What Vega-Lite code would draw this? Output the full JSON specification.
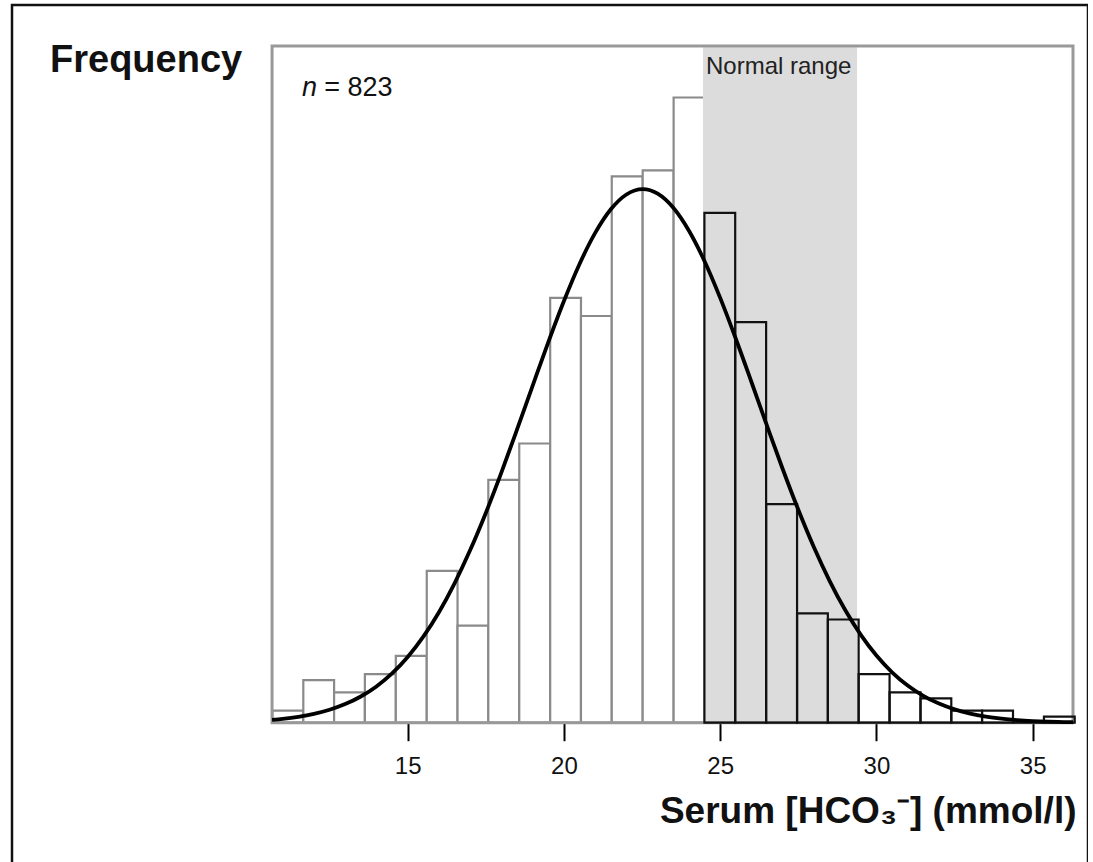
{
  "$schema": "https://vega.github.io/schema/vega-lite/v6.json",
  "autosize": "none",
  "padding": {"left": 12, "top": 5, "right": 0, "bottom": 0},
  "width": 1076,
  "height": 870,
  "background": "white",
  "config": {
    "view": {"stroke": "#111111", "strokeWidth": 2.5},
    "font": "Liberation Sans"
  },
  "datasets": {
    "bars": [
      {"start": 10.67, "end": 11.66, "count": 2},
      {"start": 11.66, "end": 12.645, "count": 7},
      {"start": 12.645, "end": 13.63, "count": 5},
      {"start": 13.63, "end": 14.62, "count": 8},
      {"start": 14.62, "end": 15.61, "count": 11},
      {"start": 15.61, "end": 16.595, "count": 25},
      {"start": 16.595, "end": 17.58, "count": 16},
      {"start": 17.58, "end": 18.57, "count": 40},
      {"start": 18.57, "end": 19.56, "count": 46},
      {"start": 19.56, "end": 20.545, "count": 70},
      {"start": 20.545, "end": 21.53, "count": 67},
      {"start": 21.53, "end": 22.52, "count": 90},
      {"start": 22.52, "end": 23.51, "count": 91},
      {"start": 23.51, "end": 24.495, "count": 103},
      {"start": 24.495, "end": 25.48, "count": 84},
      {"start": 25.48, "end": 26.47, "count": 66},
      {"start": 26.47, "end": 27.46, "count": 36},
      {"start": 27.46, "end": 28.445, "count": 18},
      {"start": 28.445, "end": 29.43, "count": 17},
      {"start": 29.43, "end": 30.42, "count": 8},
      {"start": 30.42, "end": 31.41, "count": 5},
      {"start": 31.41, "end": 32.395, "count": 4},
      {"start": 32.395, "end": 33.38, "count": 2},
      {"start": 33.38, "end": 34.37, "count": 2},
      {"start": 34.37, "end": 35.36, "count": 0},
      {"start": 35.36, "end": 36.345, "count": 1}
    ],
    "curve": [
      {"v": 10.66, "f": 0.48}, {"v": 11, "f": 0.645}, {"v": 11.5, "f": 0.979}, {"v": 12, "f": 1.458},
      {"v": 12.5, "f": 2.133}, {"v": 13, "f": 3.063}, {"v": 13.5, "f": 4.319}, {"v": 14, "f": 5.973},
      {"v": 14.5, "f": 8.117}, {"v": 15, "f": 10.83}, {"v": 15.5, "f": 14.17}, {"v": 16, "f": 18.2},
      {"v": 16.5, "f": 22.97}, {"v": 17, "f": 28.44}, {"v": 17.5, "f": 34.56}, {"v": 18, "f": 41.24},
      {"v": 18.5, "f": 48.31}, {"v": 19, "f": 55.55}, {"v": 19.5, "f": 62.7}, {"v": 20, "f": 69.48},
      {"v": 20.5, "f": 75.58}, {"v": 21, "f": 80.69}, {"v": 21.5, "f": 84.58}, {"v": 22, "f": 87.02},
      {"v": 22.52, "f": 87.9}, {"v": 23, "f": 87.15}, {"v": 23.5, "f": 84.83}, {"v": 24, "f": 81.05},
      {"v": 24.5, "f": 76.03}, {"v": 25, "f": 69.99}, {"v": 25.5, "f": 63.26}, {"v": 26, "f": 56.13},
      {"v": 26.5, "f": 48.89}, {"v": 27, "f": 41.8}, {"v": 27.5, "f": 35.08}, {"v": 28, "f": 28.9},
      {"v": 28.5, "f": 23.38}, {"v": 29, "f": 18.56}, {"v": 29.5, "f": 14.47}, {"v": 30, "f": 11.07},
      {"v": 30.5, "f": 8.31}, {"v": 31, "f": 6.13}, {"v": 31.5, "f": 4.43}, {"v": 32, "f": 3.15},
      {"v": 32.5, "f": 2.2}, {"v": 33, "f": 1.5}, {"v": 33.5, "f": 1.01}, {"v": 34, "f": 0.667},
      {"v": 34.5, "f": 0.432}, {"v": 35, "f": 0.275}, {"v": 35.5, "f": 0.171}, {"v": 36, "f": 0.105},
      {"v": 36.29, "f": 0.078}
    ],
    "frame": [{"x0": 10.66, "x1": 36.29, "y0": 0, "y1": 111.5}],
    "normal": [{"lo": 24.45, "hi": 29.38, "y0": 0, "y1": 111.3, "label": "Normal range"}]
  },
  "layer": [
    {
      "data": {"name": "bars"},
      "transform": [{"filter": "datum.start < 24.4"}],
      "mark": {"type": "rect", "fill": "white", "stroke": "#8a8a8a", "strokeWidth": 2.2},
      "encoding": {
        "x": {"field": "start", "type": "quantitative", "scale": {"domain": [2.338, 36.77], "nice": false, "zero": false},
          "axis": {"values": [15, 20, 25, 30, 35], "offset": -152.3, "domain": false, "grid": false,
            "tickColor": "black", "tickWidth": 2, "tickSize": 18, "labelFontSize": 24, "labelColor": "#111",
            "labelPadding": 14, "labelFont": "Liberation Sans",
            "title": "Serum [HCO₃⁻] (mmol/l)", "titleFontSize": 37, "titleFontWeight": "bold", "titleColor": "#111",
            "titleAnchor": "end", "titleAlign": "right", "titleBaseline": "alphabetic", "titleX": 1064, "titleY": 100,
            "titleFont": "Liberation Sans"}},
        "x2": {"field": "end"},
        "y": {"field": "count", "type": "quantitative", "scale": {"domain": [-25.09, 118.24], "nice": false, "zero": false}, "axis": null},
        "y2": {"datum": 0}
      }
    },
    {
      "data": {"name": "normal"},
      "mark": {"type": "rect", "fill": "#dcdcdc"},
      "encoding": {
        "x": {"field": "lo", "type": "quantitative"},
        "x2": {"field": "hi"},
        "y": {"field": "y0", "type": "quantitative"},
        "y2": {"field": "y1"}
      }
    },
    {
      "data": {"name": "frame"},
      "mark": {"type": "rect", "fill": null, "fillOpacity": 0, "stroke": "#999999", "strokeWidth": 3},
      "encoding": {
        "x": {"field": "x0", "type": "quantitative"},
        "x2": {"field": "x1"},
        "y": {"field": "y0", "type": "quantitative"},
        "y2": {"field": "y1"}
      }
    },
    {
      "data": {"name": "bars"},
      "transform": [{"filter": "datum.start >= 24.4"}],
      "mark": {"type": "rect", "fillOpacity": 0, "fill": "white", "stroke": "#111111", "strokeWidth": 2.2},
      "encoding": {
        "x": {"field": "start", "type": "quantitative"},
        "x2": {"field": "end"},
        "y": {"field": "count", "type": "quantitative"},
        "y2": {"datum": 0}
      }
    },
    {
      "data": {"name": "curve"},
      "mark": {"type": "line", "color": "black", "strokeWidth": 3.8, "interpolate": "monotone"},
      "encoding": {
        "x": {"field": "v", "type": "quantitative"},
        "y": {"field": "f", "type": "quantitative"}
      }
    },
    {
      "data": {"name": "normal"},
      "mark": {"type": "text", "align": "left", "baseline": "alphabetic", "fontSize": 24, "color": "#222", "dx": 3, "font": "Liberation Sans"},
      "encoding": {
        "x": {"field": "lo", "type": "quantitative"},
        "y": {"datum": 106.8, "type": "quantitative"},
        "text": {"field": "label"}
      }
    },
    {
      "data": {"values": [{}]},
      "mark": {"type": "text", "align": "left", "baseline": "alphabetic", "fontSize": 38, "fontWeight": "bold", "color": "#111"},
      "encoding": {
        "x": {"datum": 3.554, "type": "quantitative"},
        "y": {"datum": 107.2, "type": "quantitative"},
        "text": {"value": "Frequency"}
      }
    },
    {
      "data": {"values": [{}]},
      "mark": {"type": "text", "align": "left", "baseline": "alphabetic", "fontSize": 27, "fontStyle": "italic", "color": "#111"},
      "encoding": {
        "x": {"datum": 11.62, "type": "quantitative"},
        "y": {"datum": 103.2, "type": "quantitative"},
        "text": {"value": "n"}
      }
    },
    {
      "data": {"values": [{}]},
      "mark": {"type": "text", "align": "left", "baseline": "alphabetic", "fontSize": 27, "color": "#111"},
      "encoding": {
        "x": {"datum": 12.33, "type": "quantitative"},
        "y": {"datum": 103.2, "type": "quantitative"},
        "text": {"value": "= 823"}
      }
    }
  ]
}
